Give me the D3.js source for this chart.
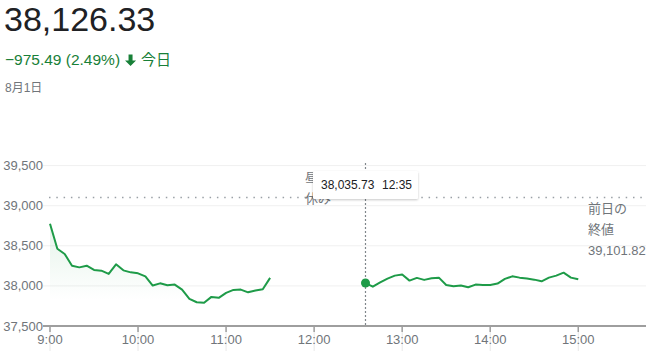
<!DOCTYPE html>
<html><head><meta charset="utf-8">
<script src="https://cdn.jsdelivr.net/npm/d3@7"></script>
<style>
body{margin:0;background:#fff;}
svg{display:block;font-family:Arial,"Liberation Sans","Noto Sans CJK JP",sans-serif;}
</style></head><body>
<svg id="c" width="650" height="351"></svg>
<script>
const priceText = "38,126.33";
const changeText = "\u2212975.49 (2.49%)";
const todayText = "今日";
const dateText = "8月1日";
const prevCloseValue = 39101.82;
const prevCloseLabels = ["前日の", "終値", "39,101.82"];
const lunchLabels = ["昼", "休み"];
const yTicks = [37500, 38000, 38500, 39000, 39500];
const xTickLabels = ["9:00","10:00","11:00","12:00","13:00","14:00","15:00"];
const morningStart = "9:00";
const morningValues = [38775,38464,38398,38252,38231,38252,38199,38190,38149,38269,38194,38169,38157,38119,38004,38032,38007,38016,37954,37838,37796,37789,37863,37851,37913,37950,37954,37920,37942,37958,38100];
const afternoonStart = "12:35";
const afternoonValues = [38035.73,37991,38045,38091,38128,38141,38066,38100,38075,38095,38103,38012,37995,38004,37983,38016,38012,38012,38029,38087,38119,38103,38091,38078,38057,38103,38128,38165,38103,38082];
const hoverTime = "12:35", hoverValue = 38035.73;
const tooltipText = ["38,035.73", "12:35"];

const parse = d3.timeParse("%H:%M");
function series(start, vals){
  const t0 = parse(start);
  return vals.map((v,i)=>({t:d3.timeMinute.offset(t0, i*5), v}));
}
const morning = series(morningStart, morningValues);
const afternoon = series(afternoonStart, afternoonValues);

const svg = d3.select("#c");
const green = "#1e9b48", textGreen = "#188038", gray = "#70757a";
const x = d3.scaleTime().domain([parse("9:00"), parse("15:45")]).range([50, 644.3]);
const y = d3.scaleLinear().domain([37500, 39500]).range([326, 165.6]);
const left = 43, right = 646;

// header
svg.append("text").attr("x",4).attr("y",31).attr("font-size",34).attr("fill","#202124").text(priceText);
const ch = svg.append("text").attr("x",5).attr("y",65).attr("font-size",15.5).attr("fill",textGreen).text(changeText);
const cw = ch.node().getComputedTextLength();
const ax = 5 + cw + 5;
svg.append("path").attr("fill",textGreen)
  .attr("d",`M${ax+3.5},54.5 h4 v6 h3.5 l-5.5,5.5 l-5.5,-5.5 h3.5 z`);
svg.append("text").attr("x",ax+16).attr("y",65).attr("font-size",15).attr("fill",textGreen).text(todayText);
svg.append("text").attr("x",5).attr("y",92).attr("font-size",12).attr("fill",gray).text(dateText);

// gridlines
svg.append("g").selectAll("line").data(yTicks.slice(1)).join("line")
  .attr("x1",left).attr("x2",right).attr("y1",d=>y(d)).attr("y2",d=>y(d))
  .attr("stroke","#f0f0f0").attr("stroke-width",1);

// y labels
svg.append("g").selectAll("text").data(yTicks).join("text")
  .attr("x",43).attr("y",d=>y(d)).attr("dy","0.35em").attr("text-anchor","end")
  .attr("font-size",13).attr("fill",gray).text(d=>d3.format(",")(d));

// prev close dotted
svg.append("line").attr("x1",49).attr("x2",right).attr("y1",y(prevCloseValue)).attr("y2",y(prevCloseValue))
  .attr("stroke","#9aa0a6").attr("stroke-width",1.5).attr("stroke-dasharray","1.5,5.8");

// x axis
const xTicks = xTickLabels.map(parse);
svg.append("g").selectAll("line").data(xTicks).join("line")
  .attr("x1",d=>x(d)).attr("x2",d=>x(d)).attr("y1",326).attr("y2",351)
  .attr("stroke","#e8e8e8").attr("stroke-width",1);
svg.append("line").attr("x1",left).attr("x2",right).attr("y1",326).attr("y2",326)
  .attr("stroke","#9e9e9e").attr("stroke-width",2);
svg.append("g").selectAll("line").data(xTicks).join("line")
  .attr("x1",d=>x(d)).attr("x2",d=>x(d)).attr("y1",325).attr("y2",332)
  .attr("stroke","#9e9e9e").attr("stroke-width",1.5);
svg.append("g").selectAll("text").data(xTicks).join("text")
  .attr("x",d=>x(d)).attr("y",344).attr("text-anchor","middle")
  .attr("font-size",13).attr("fill",gray).text((d,i)=>xTickLabels[i]);

// morning area
const defs = svg.append("defs");
const grad = defs.append("linearGradient").attr("id","g1").attr("gradientUnits","userSpaceOnUse")
  .attr("x1",0).attr("x2",0).attr("y1",220).attr("y2",300);
grad.append("stop").attr("offset",0).attr("stop-color",green).attr("stop-opacity",0.12);
grad.append("stop").attr("offset",1).attr("stop-color",green).attr("stop-opacity",0);
svg.append("path").datum(morning)
  .attr("d",d3.area().x(d=>x(d.t)).y0(326).y1(d=>y(d.v)))
  .attr("fill","url(#g1)");

const line = d3.line().x(d=>x(d.t)).y(d=>y(d.v));
[morning, afternoon].forEach(s=>{
  svg.append("path").datum(s).attr("d",line).attr("fill","none")
    .attr("stroke",green).attr("stroke-width",2).attr("stroke-linejoin","round");
});

// lunch label
lunchLabels.forEach((t,i)=>{
  svg.append("text").attr("x",305).attr("y",182+i*21).attr("font-size",13).attr("fill",gray).text(t);
});

// prev close labels
prevCloseLabels.forEach((t,i)=>{
  svg.append("text").attr("x",588).attr("y",213+i*21).attr("font-size",13).attr("fill",gray).text(t);
});

// hover line
const hx = x(parse(hoverTime));
svg.append("line").attr("x1",hx).attr("x2",hx).attr("y1",163).attr("y2",326)
  .attr("stroke","#80868b").attr("stroke-width",1.2).attr("stroke-dasharray","2,2");
svg.append("circle").attr("cx",hx).attr("cy",y(hoverValue)).attr("r",4.5).attr("fill",green);

// tooltip
const filt = defs.append("filter").attr("id","sh").attr("x","-20%").attr("y","-30%").attr("width","140%").attr("height","170%");
filt.append("feDropShadow").attr("dx",0).attr("dy",1).attr("stdDeviation",1.2).attr("flood-color","#000").attr("flood-opacity",0.22);
svg.append("rect").attr("x",313).attr("y",171).attr("width",105).attr("height",28).attr("rx",1.5)
  .attr("fill","#fff").attr("filter","url(#sh)");
svg.append("text").attr("x",321).attr("y",189).attr("font-size",12).attr("fill","#202124").text(tooltipText[0]);
svg.append("text").attr("x",382).attr("y",189).attr("font-size",12).attr("fill","#202124").text(tooltipText[1]);
</script></body></html>
